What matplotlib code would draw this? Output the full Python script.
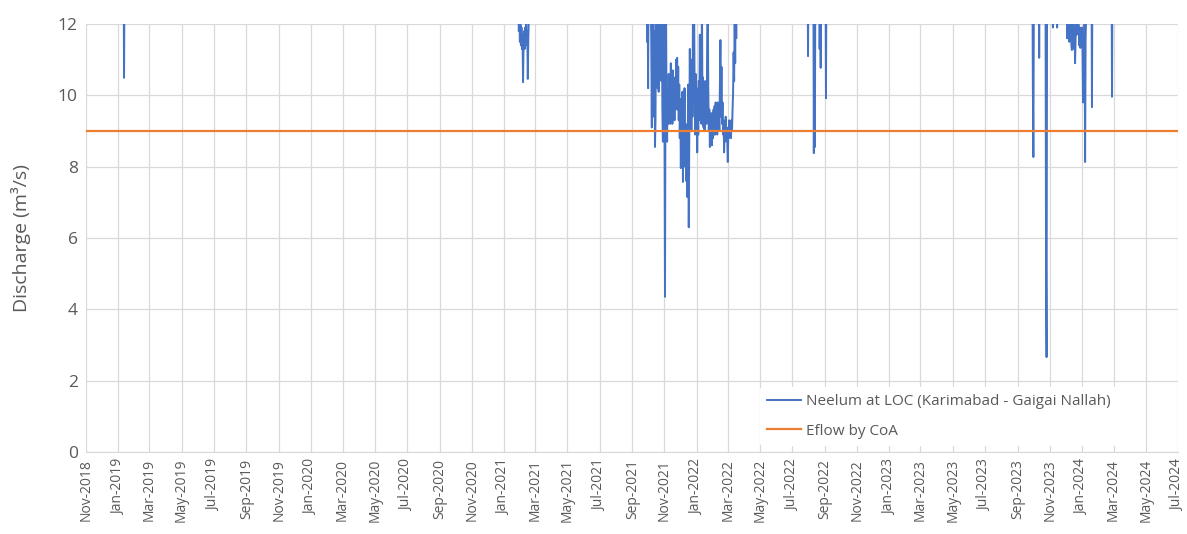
import numpy as np
import pandas as pd
import matplotlib.pyplot as plt
import matplotlib.dates as mdates

# isolated dips (flow is above 12 m3/s the rest of the time)
spike_dates = ["2018-11-01", "2019-01-11", "2019-01-12", "2019-01-13",
               "2022-07-30", "2022-07-31", "2022-08-01",
               "2022-08-10", "2022-08-11", "2022-08-12", "2022-08-13", "2022-08-14",
               "2022-08-21", "2022-08-22", "2022-08-23", "2022-08-24", "2022-08-25",
               "2022-09-02", "2022-09-03", "2022-09-04",
               "2023-09-29", "2023-09-30", "2023-10-01", "2023-10-02",
               "2023-10-11", "2023-10-12", "2023-10-13",
               "2023-10-24", "2023-10-25", "2023-10-26", "2023-10-27",
               "2023-11-06", "2023-11-07", "2023-11-08",
               "2023-11-14", "2023-11-15", "2023-11-16",
               "2024-01-19", "2024-01-20", "2024-01-21",
               "2024-02-26", "2024-02-27", "2024-02-28", "2024-07-01"]
spike_values = [14, 14, 10.49, 14,
                14, 11.1, 14,
                14, 8.38, 13, 8.55, 14,
                14, 11.3, 13, 10.77, 14,
                14, 9.92, 14,
                14, 10.3, 8.27, 13,
                14, 11.05, 14,
                13, 5.3, 2.66, 13,
                14, 11.9, 14,
                14, 11.9, 14,
                14, 9.67, 14,
                14, 9.96, 14, 14]

# daily values, Feb 2021 episode
feb21_start = "2021-01-28"
feb21_values = [13, 11.8, 12.3, 11.5, 12.1, 11.4, 11.9, 11.3, 11.7, 10.37,
                11.4, 11.8, 11.3, 11.9, 11.4, 12.1, 11.5, 11.8, 10.46, 11.6,
                12.2, 13.5, 14]

# daily values, Sep 2021 - Mar 2022 low-flow season
win21_start = "2021-09-22"
win21_values = [14, 15, 13.5, 13, 14, 12.8, 14, 11.5, 13, 10.2,
                13.5, 12.5, 14, 12.2, 13, 11.4, 9.1, 12.6, 10.1, 13,
                9.4, 11.8, 8.55, 9.3, 12.4, 10.5, 13, 10.2, 12.5, 10.1,
                13, 11.2, 14, 12.6, 10.4, 12.2, 9.6, 8.7, 11.4, 13,
                9.3, 4.35, 10.8, 12.4, 9.5, 8.7, 10.2, 9.2, 10.6, 9.4,
                10.3, 9.2, 10.9, 9.6, 10.4, 9.2, 10.7, 9.5, 10.2, 9.3,
                10.5, 9.6, 11.0, 9.8, 11.05, 9.6, 10.8, 9.3, 10.3, 8.8,
                9.9, 7.96, 9.5, 8.2, 10.1, 7.57, 9.4, 8.4, 10.2, 8.0,
                9.2, 7.6, 9.0, 7.15, 8.6, 10.3, 6.3, 9.0, 11.3, 9.2,
                10.6, 9.0, 11.0, 9.4, 12.5, 9.8, 13, 10.4, 8.9, 10.6,
                9.1, 10.2, 8.4, 9.8, 8.9, 10.4, 9.3, 11.7, 9.6, 11.0,
                9.2, 12.8, 9.5, 10.5, 9.1, 10.3, 9.0, 10.4, 9.3, 10.0,
                9.2, 11.8, 13, 10.2, 9.0, 9.6, 8.55, 9.3, 8.7, 9.5,
                8.6, 9.4, 8.8, 9.6, 8.9, 9.7, 8.9, 9.8, 9.0, 9.7,
                8.9, 9.8, 9.1, 9.6, 9.0, 10.3, 11.55, 9.4, 10.8, 9.2,
                9.8, 8.9, 9.3, 8.4, 9.2, 8.7, 9.4, 8.8, 9.1, 8.7,
                8.13, 9.0, 8.8, 9.3, 8.9, 9.2, 8.8, 9.3, 9.0, 9.6,
                10.06, 11.2, 10.4, 12.3, 10.9, 13, 11.6, 14, 13.2, 15]

# daily values, Dec 2023 - Jan 2024 episode
dec23_start = "2023-12-03"
dec23_values = [13, 11.6, 12.5, 11.7, 12.3, 11.5, 12.2, 11.6, 12.4, 11.4,
                11.27, 12.0, 11.5, 12.1, 11.3, 11.8, 10.9, 11.6, 12.2, 11.7,
                12.4, 13, 13.5, 11.8, 11.4, 11.9, 11.33, 11.8, 11.4, 11.9,
                11.35, 9.8, 11.5, 11.4, 12.0, 8.13, 11.6, 12.2, 14]

eflow_dates = ["2018-11-01", "2024-07-01"]
eflow_values = [9.0, 9.0]

series_name = "Neelum at LOC (Karimabad - Gaigai Nallah)"
eflow_name = "Eflow by CoA"

parts = [pd.Series(spike_values, index=pd.to_datetime(spike_dates))]
for start, vals in [(feb21_start, feb21_values), (win21_start, win21_values),
                    (dec23_start, dec23_values)]:
    parts.append(pd.Series(vals, index=pd.date_range(start, periods=len(vals), freq="D")))
flow = pd.concat(parts).sort_index()

grey = "#595959"
plt.rcParams['font.family'] = ['Open Sans', 'DejaVu Sans']

fig = plt.figure(figsize=(11.87, 5.34), dpi=100)
ax = fig.add_axes([0.0725, 0.1536, 0.9199, 0.8015])

ax.plot(flow.index, flow.values, color="#4472C4", lw=1.4, label=series_name, zorder=3)
ax.plot(pd.to_datetime(eflow_dates), eflow_values, color="#ED7D31", lw=1.6,
        label=eflow_name, zorder=4)

ax.set_xlim(pd.Timestamp("2018-11-01"), pd.Timestamp("2024-07-01"))
ax.set_ylim(0, 12)
ax.set_yticks(np.arange(0, 13, 2))
ax.xaxis.set_major_locator(mdates.MonthLocator(bymonth=[1, 3, 5, 7, 9, 11]))
ax.xaxis.set_major_formatter(mdates.DateFormatter("%b-%Y"))
plt.setp(ax.get_xticklabels(), rotation=90, fontsize=10, color=grey)
plt.setp(ax.get_yticklabels(), fontsize=12.5, color=grey)

ax.grid(True, color="#D9D9D9", lw=0.9)
ax.set_axisbelow(True)
for s in ["top", "right", "left"]:
    ax.spines[s].set_visible(False)
ax.spines["bottom"].set_color("#D9D9D9")
ax.tick_params(axis="both", length=0, pad=6)
ax.tick_params(axis="x", pad=5)

ax.set_ylabel("Discharge (m³/s)", fontsize=14, color=grey, labelpad=19)

leg = ax.legend(loc="lower right", bbox_to_anchor=(0.952, -0.005), fontsize=11,
                frameon=True, facecolor="white", edgecolor="none", framealpha=1,
                handlelength=2.2, handletextpad=0.3, labelspacing=0.95,
                borderpad=0.5)
for t in leg.get_texts():
    t.set_color(grey)

fig.savefig("out.png", dpi=100)
